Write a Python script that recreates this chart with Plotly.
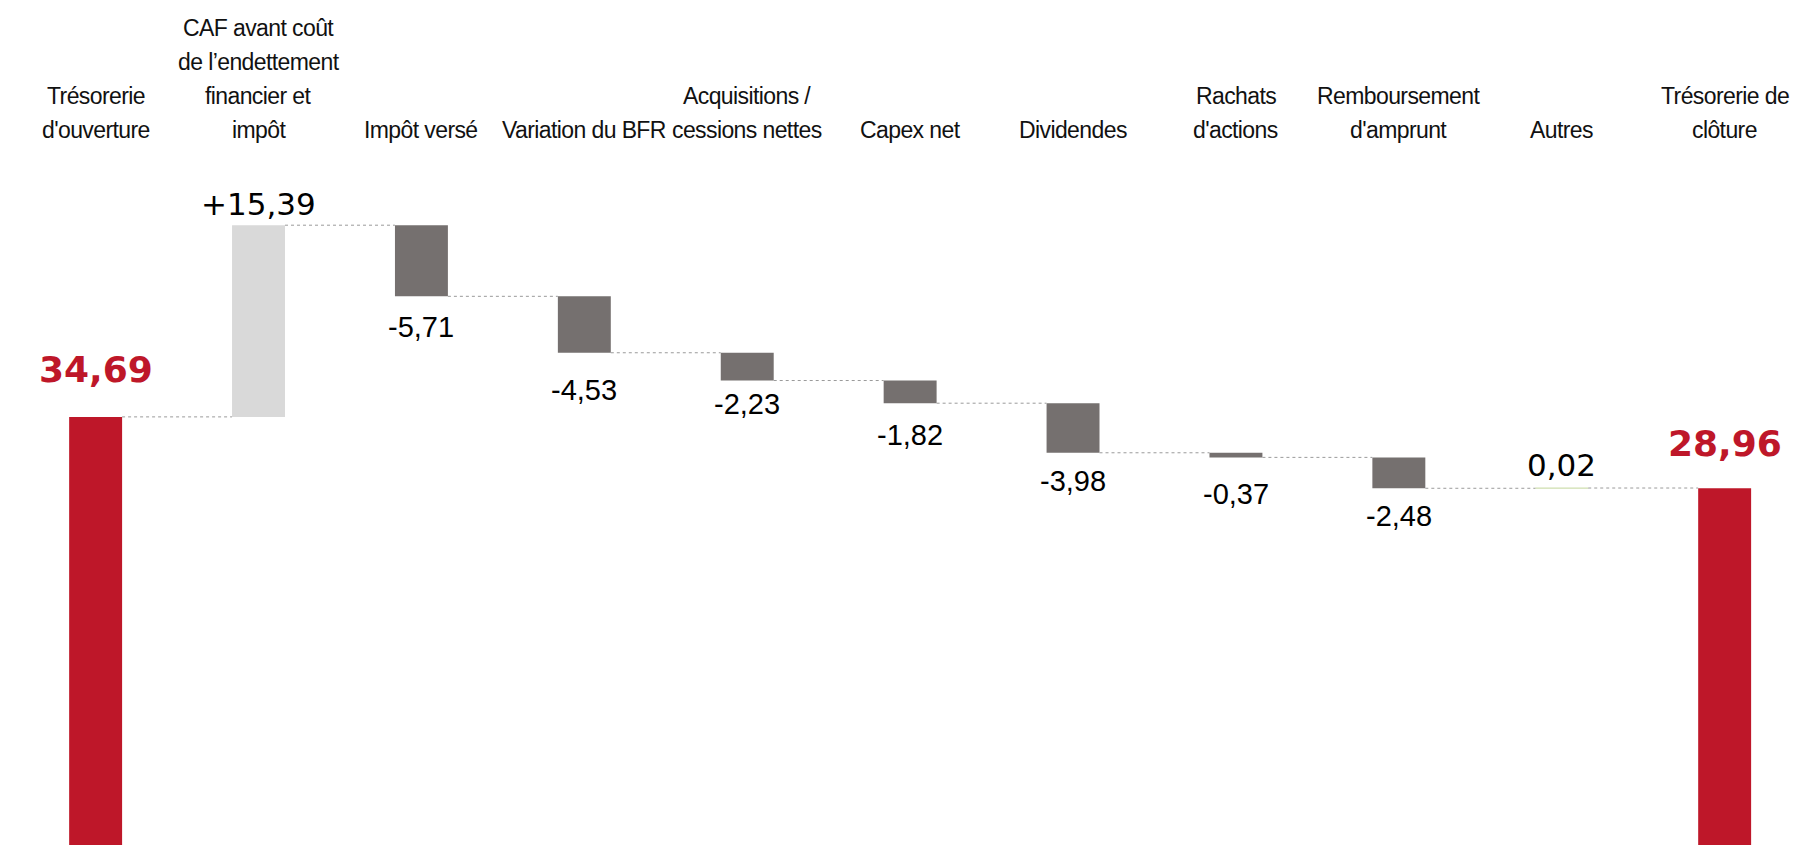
import plotly.graph_objects as go

# ---------------- data ----------------
categories = [
    "Trésorerie<br>d'ouverture",
    "CAF avant coût<br>de l’endettement<br>financier et<br>impôt",
    "Impôt versé",
    "Variation du BFR",
    "Acquisitions /<br>cessions nettes",
    "Capex net",
    "Dividendes",
    "Rachats<br>d'actions",
    "Remboursement<br>d'amprunt",
    "Autres",
    "Trésorerie de<br>clôture",
]
values = [34.69, 15.39, -5.71, -4.53, -2.23, -1.82, -3.98, -0.37, -2.48, 0.02, 28.96]
measures = ["absolute", "relative", "relative", "relative", "relative", "relative",
            "relative", "relative", "relative", "relative", "absolute"]
value_labels = ["34,69", "+15,39", "-5,71", "-4,53", "-2,23", "-1,82",
                "-3,98", "-0,37", "-2,48", "0,02", "28,96"]

# ---------------- styling ----------------
RED = "#BE1729"
DARK = "#75706F"
LIGHT = "#D9D9D9"
GREENISH = "#D7E4BD"
bar_colors = [RED, LIGHT, DARK, DARK, DARK, DARK, DARK, DARK, DARK, GREENISH, RED]
label_shift = [47, 21, -31, -37, -23, -32, -28, -37, -28, 23, 45]  # px from bar edge
label_style = ["bold", "verd", "arial", "arial", "arial", "arial", "arial",
               "arial", "arial", "verd", "bold"]

# ---------------- compute bases ----------------
bases, heights, levels = [], [], []
level = 0.0
for v, m in zip(values, measures):
    if m == "absolute":
        bases.append(0.0)
        heights.append(v)
        level = v
    else:
        bases.append(level)
        heights.append(v)
        level = level + v
    levels.append(level)

x_idx = list(range(len(categories)))
BAR_W = 0.325

fig = go.Figure()

fig.add_trace(go.Bar(
    x=x_idx, y=heights, base=bases, width=BAR_W,
    marker=dict(color=bar_colors,
                line=dict(color=bar_colors,
                          width=[1 if abs(h) < 0.1 else 0 for h in heights])),
    hoverinfo="skip",
))

# connectors
cx, cy = [], []
for i in range(len(categories) - 1):
    lv = levels[i]
    cx += [i + BAR_W / 2, i + 1 - BAR_W / 2, None]
    cy += [lv, lv, None]
fig.add_trace(go.Scatter(x=cx, y=cy, mode="lines",
                         line=dict(color="#9a9a9a", width=1, dash="dot"),
                         hoverinfo="skip"))

annotations = []
# category labels at top, one annotation per line for exact line spacing
CAT_FONT = "Liberation Sans"
LINE_STEP = 34
for i, c in enumerate(categories):
    parts = c.split("<br>")
    n = len(parts)
    for k, part in enumerate(parts):
        annotations.append(dict(
            x=i, xref="x", y=0.828, yref="paper",
            yshift=(n - 1 - k) * LINE_STEP,
            text='<span style="letter-spacing:-0.6px">' + part + "</span>",
            showarrow=False, xanchor="center", yanchor="bottom", align="center",
            font=dict(family=CAT_FONT, size=23, color="#111111"),
        ))

# value labels
for i, (t, st, sh) in enumerate(zip(value_labels, label_style, label_shift)):
    top = max(bases[i], bases[i] + heights[i])
    bot = min(bases[i], bases[i] + heights[i])
    yref_val = top if sh > 0 else bot
    if st == "bold":
        font = dict(family="DejaVu Sans", size=36, color=RED, weight="bold")
    elif st == "verd":
        font = dict(family="DejaVu Sans", size=31, color="#000000")
    else:
        font = dict(family="Liberation Sans", size=29, color="#000000")
    annotations.append(dict(
        x=i, xref="x", y=yref_val, yref="y", text=t, showarrow=False,
        xanchor="center", yanchor="middle", yshift=sh, font=font,
    ))

fig.update_layout(
    width=1796, height=845,
    margin=dict(l=0, r=0, t=0, b=0),
    paper_bgcolor="white", plot_bgcolor="white",
    showlegend=False,
    xaxis=dict(range=[-0.587, 10.438], visible=False, fixedrange=True),
    yaxis=dict(range=[0.32, 68.16], visible=False, fixedrange=True),
    annotations=annotations,
)

fig.write_html("out.html", config={"displayModeBar": False})
